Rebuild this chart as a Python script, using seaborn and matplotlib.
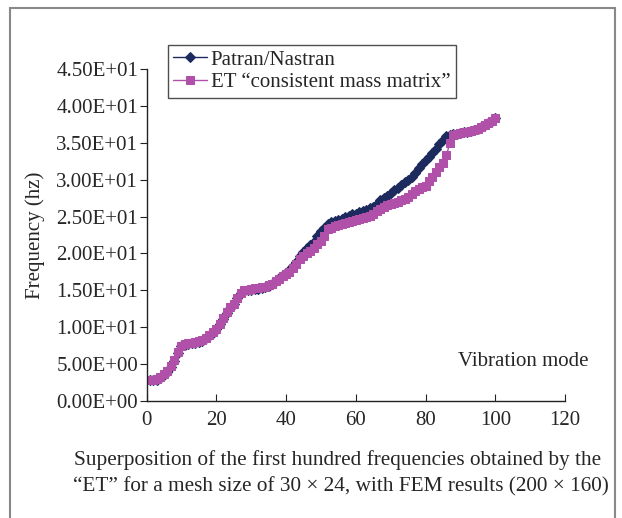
import matplotlib
matplotlib.use("Agg")
import matplotlib.pyplot as plt
import matplotlib.patches as mpatches
import seaborn as sns

modes = list(range(1, 101))

patran = [2.8, 2.8, 2.9, 3.1, 3.5, 3.9, 4.6, 5.4, 6.5, 7.4,
          7.6, 7.7, 7.8, 7.9, 8.0, 8.2, 8.5, 8.8, 9.2, 9.7,
          10.4, 11.1, 11.9, 12.6, 13.1, 13.9, 14.6, 14.9, 15.0, 15.1,
          15.2, 15.2, 15.3, 15.4, 15.6, 15.8, 16.2, 16.7, 17.1, 17.4,
          17.8, 18.3, 18.9, 19.6, 20.2, 20.8, 21.2, 21.6, 22.3, 23.0,
          23.5, 24.0, 24.3, 24.4, 24.6, 24.7, 24.9, 25.1, 25.3, 25.4,
          25.6, 25.7, 25.9, 26.1, 26.3, 26.7, 27.2, 27.5, 27.8, 28.2,
          28.6, 28.9, 29.3, 29.7, 30.0, 30.4, 30.9, 31.6, 32.1, 32.6,
          33.1, 33.6, 34.2, 34.8, 35.4, 35.9, 36.1, 36.2, 36.2, 36.3,
          36.4, 36.5, 36.6, 36.7, 36.9, 37.1, 37.4, 37.7, 38.0, 38.3]

et = [2.9, 2.9, 3.0, 3.2, 3.6, 4.0, 4.7, 5.5, 6.6, 7.5,
      7.7, 7.8, 7.9, 8.0, 8.1, 8.3, 8.6, 8.9, 9.3, 9.8,
      10.5, 11.2, 12.0, 12.7, 13.2, 14.0, 14.7, 15.0, 15.1, 15.2,
      15.3, 15.3, 15.4, 15.5, 15.7, 15.9, 16.2, 16.6, 17.0, 17.2,
      17.5, 18.0, 18.6, 19.3, 19.6, 20.0, 20.3, 20.8, 21.3, 21.7,
      22.4, 23.3, 23.5, 23.7, 23.8, 24.0, 24.1, 24.3, 24.4, 24.5,
      24.7, 24.8, 25.0, 25.1, 25.4, 25.7, 26.0, 26.3, 26.5, 26.7,
      26.9, 27.0, 27.2, 27.4, 27.7, 28.1, 28.5, 28.8, 29.0, 29.2,
      29.8, 30.4, 31.0, 31.7, 32.3, 33.3, 35.0, 36.0, 36.2, 36.3,
      36.4, 36.5, 36.6, 36.7, 36.9, 37.1, 37.4, 37.7, 38.0, 38.3]

x_ticks = [0, 20, 40, 60, 80, 100, 120]
y_ticks = [0, 5, 10, 15, 20, 25, 30, 35, 40, 45]

navy = "#1c2a5e"
magenta = "#b050a8"

sns.set_style("ticks")
plt.rcParams["font.family"] = ["Liberation Serif", "DejaVu Serif"]

fig = plt.figure(figsize=(6.22, 5.18), dpi=100)
ax = fig.add_axes([146.5 / 622, 1 - 401 / 518, (565 - 146.5) / 622, (401 - 69) / 518])

sns.lineplot(x=modes, y=patran, ax=ax, color=navy, marker="D", markersize=5,
             markeredgecolor=navy, linewidth=1, label="Patran/Nastran")
sns.lineplot(x=modes, y=et, ax=ax, color=magenta, marker="s", markersize=6.3,
             markeredgecolor=magenta, linewidth=1, label="ET \u201cconsistent mass matrix\u201d")

ax.set_xlim(0, 120)
ax.set_ylim(0, 45)
ax.set_xticks(x_ticks)
ax.set_yticks(y_ticks)
ax.set_yticklabels(["{:.2E}".format(v) for v in y_ticks])
ax.tick_params(axis="x", direction="in", length=5, pad=7, labelsize=15, color="#222222")
ax.tick_params(axis="y", direction="out", length=5, pad=1, labelsize=15, color="#222222")
sns.despine(ax=ax)
for s in ["left", "bottom"]:
    ax.spines[s].set_color("#222222")
    ax.spines[s].set_linewidth(1)
ax.set_ylabel("Frequency (hz)", fontsize=15, labelpad=8)
ax.set_xlabel("")

ax.text(108, 5.3, "Vibration mode", ha="center", va="center", fontsize=15)

leg = ax.legend(loc="upper left", bbox_to_anchor=(168 / 622, 1 - 45 / 518),
                bbox_transform=fig.transFigure, fontsize=15, frameon=True,
                fancybox=False, handlelength=1.6, handletextpad=0.2,
                borderpad=0.25, labelspacing=0.15, borderaxespad=0)
leg.get_frame().set_edgecolor("#222222")
leg.get_frame().set_linewidth(1)

fig.text(337.5 / 622, 1 - 460 / 518,
         "Superposition of the first hundred frequencies obtained by the",
         ha="center", va="center", fontsize=15.3)
fig.text(340.5 / 622, 1 - 487 / 518,
         "\u201cET\u201d for a mesh size of 30 \u00d7 24, with FEM results (200 \u00d7 160)",
         ha="center", va="center", fontsize=15.3)

frame = mpatches.Rectangle((10 / 622, -0.1), (615 - 10) / 622, 1.1 - 8 / 518,
                           transform=fig.transFigure, fill=False,
                           edgecolor="#888888", linewidth=1.5)
fig.patches.append(frame)

fig.savefig("out.png", dpi=100)
